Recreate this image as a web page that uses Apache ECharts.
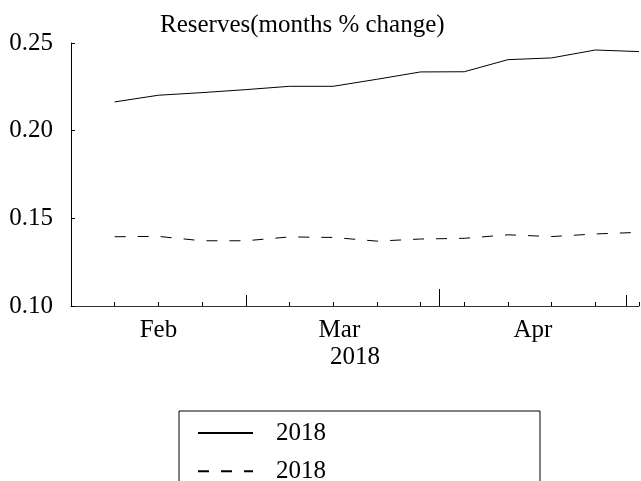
<!DOCTYPE html>
<title>reserves</title>
<style>
body {margin: 0;}
#echart {height: 481px; width: 641px;}
</style>
<div id='echart'></div>
<script src='https://cdn.jsdelivr.net/npm/echarts@6.0.0/dist/echarts.min.js'></script>
<script>
// weekly observations
const weekDates = ['2018-01-25', '2018-02-01', '2018-02-08', '2018-02-15', '2018-02-22', '2018-03-01', '2018-03-08', '2018-03-15', '2018-03-22', '2018-03-29', '2018-04-05', '2018-04-12', '2018-04-19']
const solidValues = [0.2164, 0.2202, 0.2217, 0.2234, 0.2253, 0.2253, 0.2293, 0.2335, 0.2336, 0.2405, 0.2415, 0.2460, 0.2451]
const dashedValues = [0.1395, 0.1397, 0.1372, 0.1372, 0.1394, 0.1391, 0.1370, 0.1382, 0.1386, 0.1406, 0.1396, 0.1411, 0.1420]
const legendLabels = ['2018', '2018']

// axis bits
const axisStart = '2018-01-18'
const axisEnd = '2018-04-19'
const monthLabelDates = ['2018-02-01', '2018-03-02', '2018-04-02']
const monthNames = ['Jan', 'Feb', 'Mar', 'Apr', 'May', 'Jun', 'Jul', 'Aug', 'Sep', 'Oct', 'Nov', 'Dec']
const midTickDates = ['2018-02-15', '2018-04-17']
const tallTickDates = ['2018-03-18']
const yTicks = [0.10, 0.15, 0.20, 0.25]

// dates are kept as day numbers on a plain value axis
let day = s => Date.parse(s + 'T00:00:00Z') / 86400000
let font = 'Liberation Serif'
let fs = 25

let echart = echarts.init(document.querySelector('#echart'))

let baseX = {
	type: 'value', gridIndex: 0, position: 'bottom', min: day(axisStart), max: day(axisEnd),
	splitLine: {show: false}, axisLine: {show: false}, axisLabel: {show: false},
}

let option = {
	animation: false,
	title: {text: 'Reserves(months % change)', left: 160, top: 6, padding: 0, textStyle: {fontFamily: font, fontSize: fs, fontWeight: 'normal', color: '#000'}},
	grid: {left: 71, right: 2, top: 43, bottom: 175},
	legend: {
		orient: 'vertical', left: 179, top: 411, height: 200, padding: [3, 214, 40, 18],
		itemWidth: 55, itemHeight: 14, itemGap: 0,
		borderColor: '#000', borderWidth: 1, borderRadius: 0,
		itemStyle: {opacity: 0},
		formatter: name => legendLabels[name === 'solid' ? 0 : 1],
		textStyle: {fontFamily: font, fontSize: fs, lineHeight: 25, color: '#000', padding: [0, 0, 0, 18]},
	},
	xAxis: [
		{
			...baseX,
			axisLine: {show: true, lineStyle: {color: '#333', width: 1}},
			axisTick: {inside: true, length: 4, lineStyle: {color: '#000'}, customValues: weekDates.map(day)},
			axisLabel: {show: true, margin: 5, fontFamily: font, fontSize: fs, color: '#000', customValues: monthLabelDates.map(day), formatter: v => monthNames[new Date(v * 86400000).getUTCMonth()]},
			name: '2018', nameLocation: 'middle', nameGap: 32, nameMoveOverlap: false, nameTextStyle: {fontFamily: font, fontSize: fs, color: '#000'},
		},
		{...baseX, axisTick: {inside: true, length: 11, lineStyle: {color: '#000'}, customValues: midTickDates.map(day)}},
		{...baseX, axisTick: {inside: true, length: 17, lineStyle: {color: '#000'}, customValues: tallTickDates.map(day)}},
	],
	yAxis: {
		type: 'value', min: 0.10, max: 0.25, interval: 0.05,
		splitLine: {show: false},
		axisLine: {show: true, lineStyle: {color: '#000'}},
		axisTick: {inside: true, length: 4, lineStyle: {color: '#000'}, customValues: yTicks},
		axisLabel: {margin: 18, fontFamily: font, fontSize: fs, color: '#000', customValues: yTicks, formatter: v => v.toFixed(2)},
	},
	series: [
		{type: 'line', name: 'solid', xAxisIndex: 0, data: weekDates.map((d, i) => [day(d), solidValues[i]]), symbol: 'none', lineStyle: {color: '#000', width: 1}, itemStyle: {color: '#000'}},
		{type: 'line', name: 'dashed', xAxisIndex: 0, data: weekDates.map((d, i) => [day(d), dashedValues[i]]), symbol: 'none', lineStyle: {color: '#000', width: 1, type: [11, 12]}, itemStyle: {color: '#000'}},
	],
}

echart.setOption(option)
</script>
